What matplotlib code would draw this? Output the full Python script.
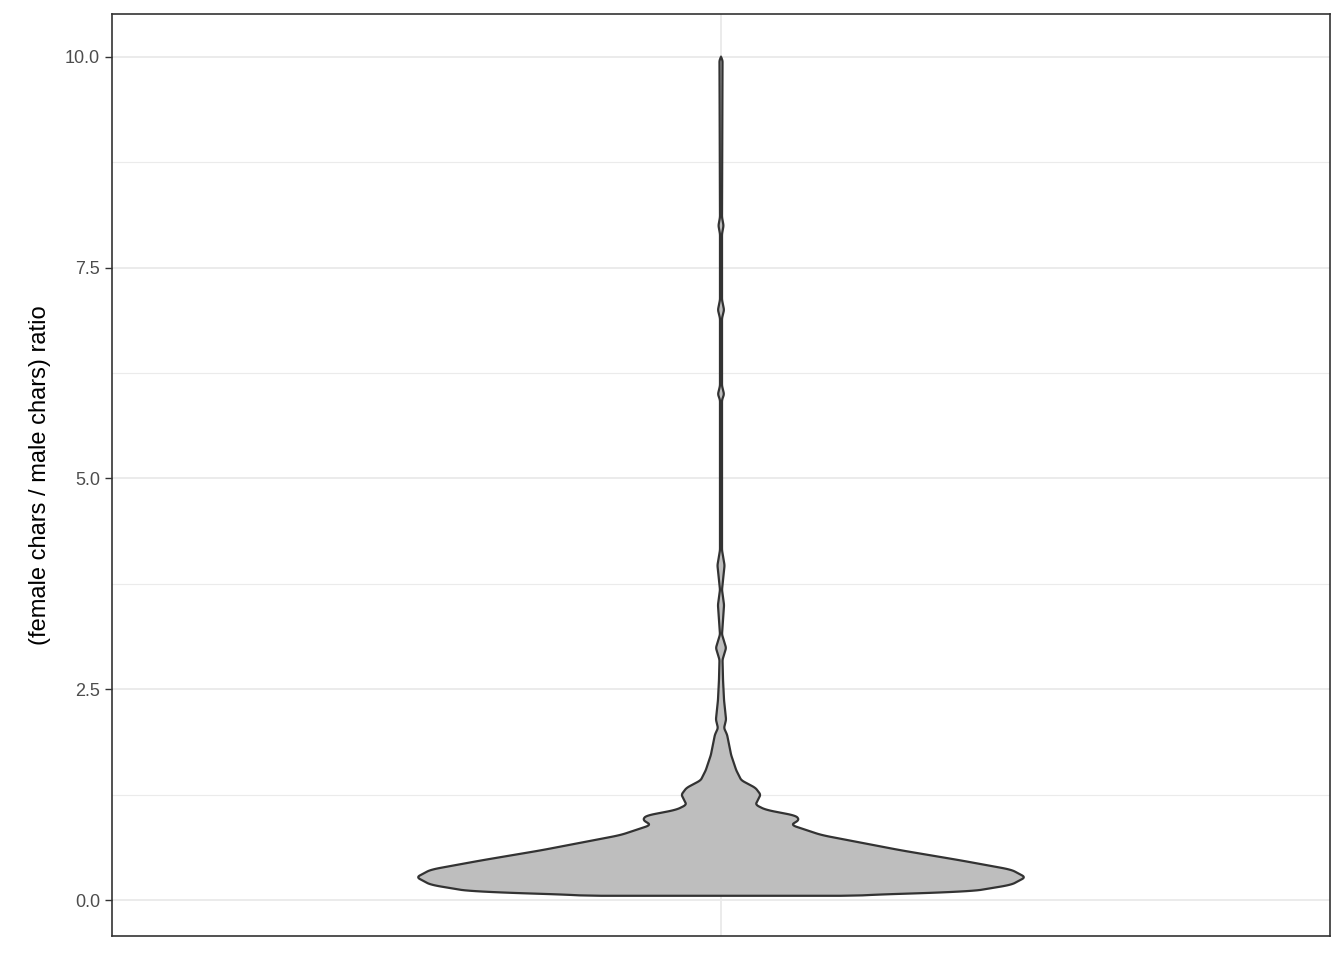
import numpy as np
import matplotlib.pyplot as plt

plt.rcParams['font.family'] = ['Liberation Sans', 'DejaVu Sans']

# violin profile: ratio value and half-width (x units)
ratio = [0.05, 0.1, 0.18, 0.27, 0.36, 0.47, 0.59, 0.77, 0.89, 0.95, 1.0, 1.07, 1.13,
         1.25, 1.33, 1.42, 1.54, 1.72, 1.84, 1.96, 2.04, 2.14, 2.37, 2.61, 2.85, 2.99,
         3.15, 3.5, 3.68, 3.97, 4.15, 5.93, 6.0, 6.1, 6.9, 7.0, 7.12, 7.9, 8.0, 8.1, 9.96, 10.0]
half_w = [0.118, 0.246, 0.286, 0.300, 0.286, 0.236, 0.177, 0.099, 0.069, 0.077, 0.074,
          0.044, 0.034, 0.039, 0.034, 0.020, 0.015, 0.010, 0.008, 0.006, 0.003, 0.005,
          0.003, 0.002, 0.0015, 0.005, 0.001, 0.003, 0.001, 0.0035, 0.001, 0.001, 0.003,
          0.001, 0.001, 0.003, 0.001, 0.001, 0.0025, 0.001, 0.0015, 0.0]
center = 1.0

fig = plt.figure(figsize=(13.44, 9.6), dpi=100)
ax = fig.add_axes([112/1344, 24/960, 1218/1344, 922/960])

# smooth the traced outline a little so it reads like a density curve
yy = np.linspace(ratio[0], ratio[-1], 2000)
ww = np.interp(yy, ratio, half_w)
k = np.ones(9) / 9
ww_s = np.convolve(np.pad(ww, 4, mode='edge'), k, mode='valid')
ww_s[0] = half_w[0]
ww_s[-1] = 0
xs = np.concatenate([center + ww_s, (center - ww_s)[::-1]])
ys = np.concatenate([yy, yy[::-1]])
ax.fill(xs, ys, facecolor='#bebebe', edgecolor='#333333', linewidth=1.6, zorder=3)

ax.set_xlim(0.4, 1.6)
ax.set_ylim(-0.427, 10.51)
ax.set_yticks([0, 2.5, 5, 7.5, 10])
ax.set_yticklabels(['0.0', '2.5', '5.0', '7.5', '10.0'])
ax.set_yticks([1.25, 3.75, 6.25, 8.75], minor=True)
ax.set_xticks([1])
ax.set_xticklabels([])
ax.grid(True, which='major', color='#ebebeb', linewidth=1.4, zorder=0)
ax.grid(True, which='minor', axis='y', color='#ebebeb', linewidth=0.8, zorder=0)
ax.tick_params(axis='y', which='minor', length=0)
ax.tick_params(axis='both', which='major', length=5, color='#333333', labelsize=13, labelcolor='#4d4d4d', width=1)
ax.tick_params(axis='x', length=0)
for s in ax.spines.values():
    s.set_color('#333333')
    s.set_linewidth(1.2)
ax.set_axisbelow(True)
ax.set_ylabel('(female chars / male chars) ratio', fontsize=17, labelpad=10)

fig.savefig('out.png')
